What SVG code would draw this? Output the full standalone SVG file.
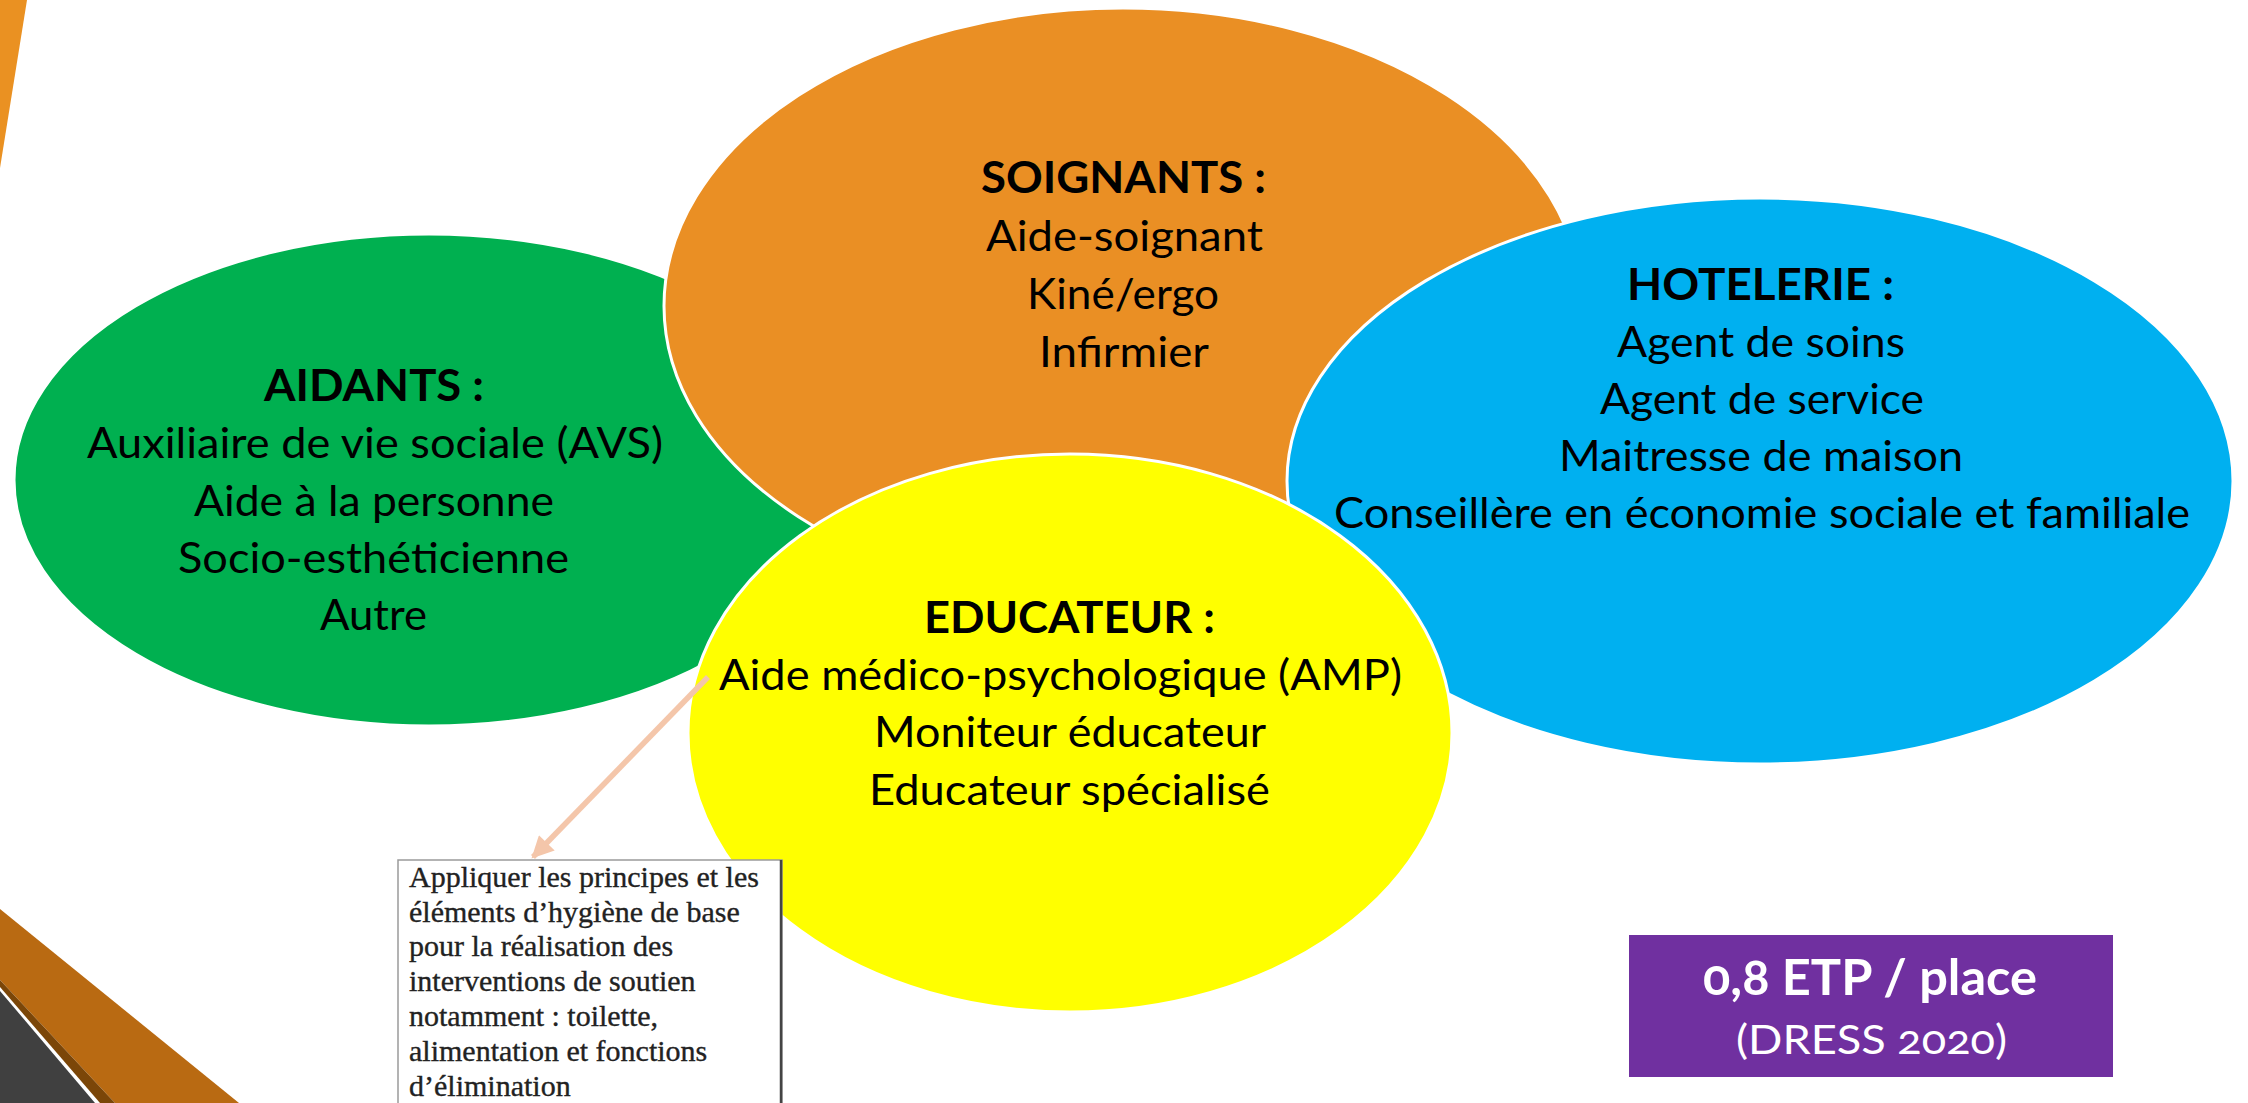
<svg xmlns="http://www.w3.org/2000/svg" width="2248" height="1103" viewBox="0 0 2248 1103">
<defs>
<style>
.t{font-family:Lato,"Open Sans","Noto Sans",sans-serif;font-size:43px;fill:#000}
.b{font-weight:bold}
.e{stroke:#fff;stroke-width:3}
.n{font-family:"Liberation Serif","Times New Roman",serif;font-size:30px;fill:#222;stroke:#222;stroke-width:0.35}
.w{font-family:Lato,"Open Sans","Noto Sans",sans-serif;fill:#fff;font-variant-numeric:oldstyle-nums}
</style>
<marker id="ah" viewBox="0 0 10 10" refX="9" refY="5" markerWidth="4.5" markerHeight="4" orient="auto" markerUnits="strokeWidth">
<path d="M0,0 L10,5 L0,10 Z" fill="#F4C6AA"/>
</marker>
</defs>
<rect width="2248" height="1103" fill="#fff"/>
<g id="decor">
<polygon points="0,0 27,0 0,168" fill="#EA9122"/>
<polygon points="0,909 239,1103 115,1103 0,980" fill="#B96A12"/>
<polygon points="0,980 115,1103 100,1103 0,987" fill="#7B4608"/>
<polygon points="0,991 95,1103 0,1103" fill="#404040"/>
</g>
<g id="aidants">
<ellipse class="e" cx="429" cy="480" rx="415" ry="246" fill="#00B050"/>
<text class="t b" x="264" y="401" textLength="220" lengthAdjust="spacingAndGlyphs">AIDANTS :</text>
<text class="t" x="87" y="458" textLength="576" lengthAdjust="spacingAndGlyphs">Auxiliaire de vie sociale (AVS)</text>
<text class="t" x="194" y="516" textLength="360" lengthAdjust="spacingAndGlyphs">Aide à la personne</text>
<text class="t" x="178" y="573" textLength="391" lengthAdjust="spacingAndGlyphs">Socio-esthéticienne</text>
<text class="t" x="320" y="630" textLength="107" lengthAdjust="spacingAndGlyphs">Autre</text>
</g>
<g id="soignants">
<ellipse class="e" cx="1123" cy="306" rx="459" ry="298" fill="#EA8F24"/>
<text class="t b" x="981" y="193" textLength="285" lengthAdjust="spacingAndGlyphs">SOIGNANTS :</text>
<text class="t" x="986" y="251" textLength="277" lengthAdjust="spacingAndGlyphs">Aide-soignant</text>
<text class="t" x="1027" y="309" textLength="192" lengthAdjust="spacingAndGlyphs">Kiné/ergo</text>
<text class="t" x="1039" y="367" textLength="170" lengthAdjust="spacingAndGlyphs">Infirmier</text>
</g>
<g id="hotelerie">
<ellipse class="e" cx="1760" cy="481" rx="473" ry="283" fill="#00B0F0"/>
<text class="t b" x="1627" y="300" textLength="267" lengthAdjust="spacingAndGlyphs">HOTELERIE :</text>
<text class="t" x="1617" y="357" textLength="288" lengthAdjust="spacingAndGlyphs">Agent de soins</text>
<text class="t" x="1600" y="414" textLength="324" lengthAdjust="spacingAndGlyphs">Agent de service</text>
<text class="t" x="1559" y="471" textLength="404" lengthAdjust="spacingAndGlyphs">Maitresse de maison</text>
<text class="t" x="1334" y="528" textLength="856" lengthAdjust="spacingAndGlyphs">Conseillère en économie sociale et familiale</text>
</g>
<g id="educateur">
<ellipse class="e" cx="1070" cy="733" rx="382" ry="279" fill="#FFFF00"/>
<text class="t b" x="924" y="633" textLength="291" lengthAdjust="spacingAndGlyphs">EDUCATEUR :</text>
<text class="t" x="719" y="690" textLength="683" lengthAdjust="spacingAndGlyphs">Aide médico-psychologique (AMP)</text>
<text class="t" x="874" y="747" textLength="392" lengthAdjust="spacingAndGlyphs">Moniteur éducateur</text>
<text class="t" x="869" y="805" textLength="401" lengthAdjust="spacingAndGlyphs">Educateur spécialisé</text>
</g>
<g id="connectors">
<line x1="708" y1="677" x2="533" y2="857" stroke="#F4C6AA" stroke-width="5.5" marker-end="url(#ah)"/>
</g>
<g id="note">
<rect x="398" y="860" width="384" height="260" fill="#fff" stroke="#9a9a9a" stroke-width="1.5"/>
<line x1="781" y1="860" x2="781" y2="1103" stroke="#444" stroke-width="2.5"/>
<text class="n" x="409" y="887">Appliquer les principes et les</text>
<text class="n" x="409" y="922">éléments d’hygiène de base</text>
<text class="n" x="409" y="956">pour la réalisation des</text>
<text class="n" x="409" y="991">interventions de soutien</text>
<text class="n" x="409" y="1026">notamment : toilette,</text>
<text class="n" x="409" y="1061">alimentation et fonctions</text>
<text class="n" x="409" y="1096">d’élimination</text>
</g>
<g id="etp">
<rect x="1629" y="935" width="484" height="142" fill="#7030A0"/>
<text class="w b" x="1703" y="995" font-size="50" textLength="334" lengthAdjust="spacingAndGlyphs">0,8 ETP / place</text>
<text class="w" x="1736" y="1054" font-size="41" textLength="271" lengthAdjust="spacingAndGlyphs">(DRESS 2020)</text>
</g>
</svg>
